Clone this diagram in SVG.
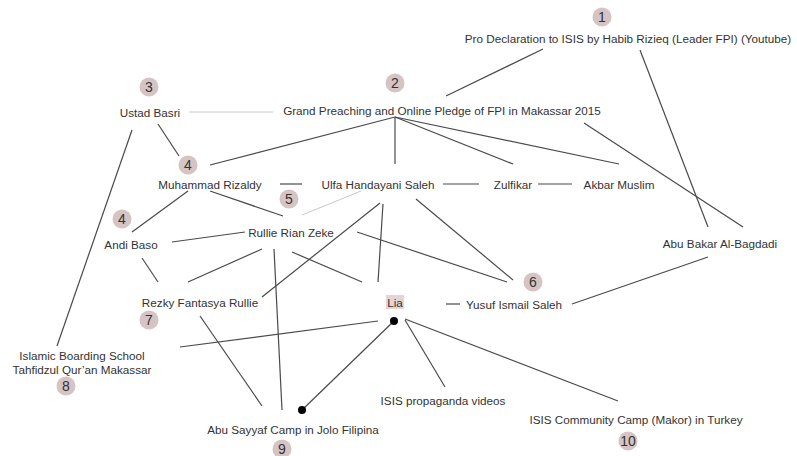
<svg xmlns="http://www.w3.org/2000/svg" width="797" height="456" viewBox="0 0 797 456">
<style>
.t{font-family:"Liberation Sans",Arial,sans-serif;font-size:11.7px;fill:#333;text-anchor:middle;dominant-baseline:central}
.b{fill:#d6c3c3}
.n{font-family:"Liberation Sans",Arial,sans-serif;font-size:14px;fill:#333;text-anchor:middle;dominant-baseline:central}
.e line{stroke:#4a4a4a;stroke-width:1.2}
.e line.l{stroke:#c8c8c8;stroke-width:1}
.d{fill:#000}
</style>
<rect width="797" height="456" fill="#fff"/>
<g id="connectors" class="e">
<line x1="543" y1="49" x2="446" y2="96"/>
<line x1="640" y1="50" x2="708" y2="227"/>
<line x1="584" y1="123" x2="743" y2="227"/>
<line x1="395" y1="117" x2="210" y2="165"/>
<line x1="395" y1="117" x2="395" y2="164"/>
<line x1="395" y1="117" x2="513" y2="164"/>
<line x1="395" y1="117" x2="619" y2="164"/>
<line class="l" x1="189" y1="112" x2="273" y2="112"/>
<line x1="158" y1="124" x2="179" y2="156"/>
<line x1="132" y1="130" x2="57" y2="346"/>
<line x1="280" y1="184" x2="302" y2="184"/>
<line x1="210" y1="191" x2="283" y2="216"/>
<line class="l" x1="361" y1="191" x2="302" y2="215"/>
<line x1="188" y1="191" x2="132" y2="232"/>
<line x1="172" y1="242" x2="245" y2="232"/>
<line x1="142" y1="258" x2="158" y2="282"/>
<line x1="262" y1="249" x2="188" y2="282"/>
<line x1="274" y1="249" x2="282" y2="410"/>
<line x1="292" y1="252" x2="362" y2="282"/>
<line x1="357" y1="232" x2="507" y2="282"/>
<line x1="380" y1="203" x2="262" y2="297"/>
<line x1="383" y1="204" x2="378" y2="282"/>
<line x1="416" y1="199" x2="513" y2="280"/>
<line x1="443" y1="184" x2="479" y2="184"/>
<line x1="538" y1="184" x2="572" y2="184"/>
<line x1="446" y1="304" x2="460" y2="304"/>
<line x1="572" y1="304" x2="708" y2="257"/>
<line x1="180" y1="347" x2="378" y2="321"/>
<line x1="394" y1="321" x2="302" y2="410"/>
<line x1="200" y1="316" x2="262" y2="406"/>
<line x1="405" y1="320" x2="445" y2="387"/>
<line x1="405" y1="319" x2="618" y2="401"/>
<circle class="d" cx="394" cy="321" r="4"/>
<circle class="d" cx="302" cy="410" r="4"/>
</g>
<g id="n1"><circle class="b" cx="602" cy="17" r="9.5"/><text class="n" x="602" y="17">1</text><text class="t" x="628" y="38">Pro Declaration to ISIS by Habib Rizieq (Leader FPI) (Youtube)</text></g>
<g id="n2"><circle class="b" cx="395" cy="83" r="9.5"/><text class="n" x="395" y="83">2</text><text class="t" x="442" y="110">Grand Preaching and Online Pledge of FPI in Makassar 2015</text></g>
<g id="n3"><circle class="b" cx="149" cy="87" r="9.5"/><text class="n" x="149" y="87">3</text><text class="t" x="150" y="112">Ustad Basri</text></g>
<g id="n4a"><circle class="b" cx="188" cy="165" r="9.5"/><text class="n" x="188" y="165">4</text><text class="t" x="210" y="184">Muhammad Rizaldy</text></g>
<g id="n5"><circle class="b" cx="289" cy="199" r="9.5"/><text class="n" x="289" y="199">5</text><text class="t" x="378" y="184">Ulfa Handayani Saleh</text></g>
<g id="zulfikar"><text class="t" x="513" y="184">Zulfikar</text></g>
<g id="akbar"><text class="t" x="619" y="184">Akbar Muslim</text></g>
<g id="n4b"><circle class="b" cx="122" cy="219" r="9.5"/><text class="n" x="122" y="219">4</text><text class="t" x="131" y="244">Andi Baso</text></g>
<g id="rullie"><text class="t" x="291" y="232">Rullie Rian Zeke</text></g>
<g id="abubakar"><text class="t" x="720" y="243">Abu Bakar Al-Bagdadi</text></g>
<g id="n7"><circle class="b" cx="149" cy="320" r="9.5"/><text class="n" x="149" y="320">7</text><text class="t" x="200" y="302">Rezky Fantasya Rullie</text></g>
<g id="lia"><rect x="386" y="295" width="18" height="14" fill="#e6d3d3"/><text class="t" x="395" y="302">Lia</text></g>
<g id="n6"><circle class="b" cx="533" cy="282" r="9.5"/><text class="n" x="533" y="282">6</text><text class="t" x="514" y="304">Yusuf Ismail Saleh</text></g>
<g id="n8"><circle class="b" cx="66" cy="386" r="9.5"/><text class="n" x="66" y="386">8</text><text class="t" x="82" y="355">Islamic Boarding School</text><text class="t" x="82" y="369">Tahfidzul Qur’an Makassar</text></g>
<g id="propaganda"><text class="t" x="443" y="400">ISIS propaganda videos</text></g>
<g id="n9"><circle class="b" cx="282" cy="449" r="9.5"/><text class="n" x="282" y="449">9</text><text class="t" x="293" y="429">Abu Sayyaf Camp in Jolo Filipina</text></g>
<g id="n10"><circle class="b" cx="628" cy="441" r="9.5"/><text class="n" x="628" y="441">10</text><text class="t" x="636" y="419">ISIS Community Camp (Makor) in Turkey</text></g>
</svg>
